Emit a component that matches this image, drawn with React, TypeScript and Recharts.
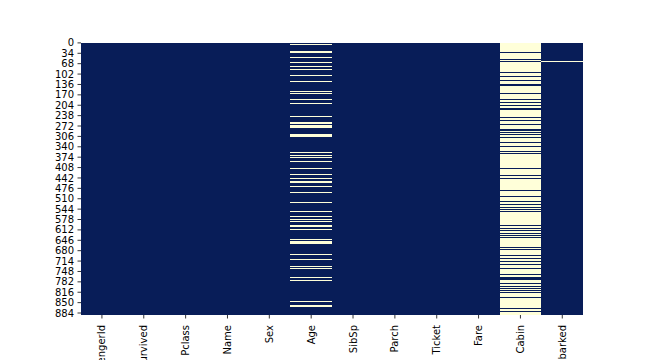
import React from "react";
import { ComposedChart, XAxis, YAxis, ReferenceArea } from "recharts";

const NAVY = "#081d58";
const CREAM = "#ffffd9";

const columns = [
  "PassengerId", "Survived", "Pclass", "Name", "Sex", "Age",
  "SibSp", "Parch", "Ticket", "Fare", "Cabin", "Embarked",
];
const rowCount = 891;

const yTickLabels = [
  0, 34, 68, 102, 136, 170, 204, 238, 272, 306, 340, 374, 408, 442,
  476, 510, 544, 578, 612, 646, 680, 714, 748, 782, 816, 850, 884,
];

// rows where Age is missing
const ageMissing = [
  5, 17, 19, 26, 28, 29, 31, 32, 36, 42, 45, 46, 47, 48, 55, 64, 65, 76, 77, 82,
  87, 95, 101, 107, 109, 121, 126, 128, 140, 154, 158, 159, 166, 168, 176, 180,
  181, 185, 186, 196, 198, 201, 214, 223, 229, 235, 240, 241, 250, 256, 260, 264,
  270, 274, 277, 284, 295, 298, 300, 301, 303, 304, 306, 324, 330, 334, 335, 347,
  351, 354, 358, 359, 364, 367, 368, 375, 384, 388, 409, 410, 411, 413, 415, 420,
  425, 428, 431, 444, 451, 454, 457, 459, 464, 466, 468, 470, 475, 481, 485, 490,
  495, 497, 502, 507, 511, 517, 522, 524, 527, 531, 533, 538, 547, 552, 557, 560,
  563, 564, 568, 573, 578, 584, 589, 593, 596, 598, 601, 602, 611, 612, 613, 629,
  633, 639, 643, 648, 650, 653, 656, 667, 669, 674, 680, 692, 697, 709, 711, 718,
  727, 732, 738, 739, 740, 760, 766, 768, 773, 776, 778, 783, 790, 792, 793, 815,
  825, 826, 828, 832, 837, 839, 846, 849, 859, 863, 868, 878, 888,
];

// rows where Cabin is filled in (everything else is missing)
const cabinPresent = [
  1, 3, 6, 10, 11, 21, 23, 27, 31, 52, 54, 55, 61, 62, 66, 75, 88, 92, 96, 97,
  102, 110, 118, 123, 124, 128, 136, 137, 139, 148, 151, 166, 170, 174, 177, 183,
  185, 193, 194, 195, 205, 209, 215, 218, 244, 254, 267, 283, 287, 293, 300, 310,
  326, 339, 355, 362, 411, 434, 441, 444, 483, 503, 519, 529, 539, 545, 552, 598,
  607, 614, 624, 630, 637, 670, 676, 696, 706, 715, 725, 738, 758, 765, 766, 767,
  768, 769, 770, 771, 772, 773, 774, 787, 797, 804, 810, 817, 833, 869, 879,
];

const embarkedMissing = [61, 829];

// merge row indices into [start, end) runs
function toRuns(rows: number[]): [number, number][] {
  const sorted = [...rows].sort((a, b) => a - b);
  const runs: [number, number][] = [];
  for (const r of sorted) {
    const last = runs[runs.length - 1];
    if (last && last[1] === r) last[1] = r + 1;
    else runs.push([r, r + 1]);
  }
  return runs;
}

function complement(rows: number[], n: number): number[] {
  const set = new Set(rows);
  const out: number[] = [];
  for (let i = 0; i < n; i++) if (!set.has(i)) out.push(i);
  return out;
}

const missingByColumn: Record<string, number[]> = {
  Age: ageMissing,
  Cabin: complement(cabinPresent, rowCount),
  Embarked: embarkedMissing,
};

const cellShape = (fill: string) => (p: any) => (
  <rect
    x={p.x}
    y={p.y}
    width={p.width}
    height={p.height}
    fill={fill}
    shapeRendering="crispEdges"
  />
);

const XTick = ({ x, y, payload }: any) => {
  const ty = y + 3;
  return (
    <text
      x={x}
      y={ty}
      transform={`rotate(-90 ${x} ${ty})`}
      textAnchor="end"
      dominantBaseline="central"
      fontSize={10}
      fontFamily="DejaVu Sans"
      fill="#000"
    >
      {columns[Math.floor(payload.value)]}
    </text>
  );
};

const chartData = columns.map((c, i) => ({ name: c, pos: i + 0.5, row: i * 81 }));

export default function App() {
  return (
    <div style={{ position: "absolute", left: 0, top: 0, background: "#fff" }}>
      <ComposedChart
        width={648}
        height={360}
        data={chartData}
        margin={{ top: 42.75, right: 64.8, bottom: 0, left: 0 }}
      >
        <XAxis
          type="number"
          dataKey="pos"
          domain={[0, columns.length]}
          allowDataOverflow
          ticks={columns.map((_, i) => i + 0.5)}
          interval={0}
          axisLine={false}
          tickLine={{ stroke: "#000", strokeWidth: 0.8 }}
          tickSize={3.5}
          tickMargin={3.5}
          height={45}
          tick={<XTick />}
        />
        <YAxis
          type="number"
          dataKey="row"
          reversed
          domain={[0, rowCount]}
          allowDataOverflow
          ticks={yTickLabels.map((v) => v + 0.5)}
          interval={0}
          tickFormatter={(v: number) => String(v - 0.5)}
          axisLine={false}
          tickLine={{ stroke: "#000", strokeWidth: 0.8 }}
          tickSize={3.5}
          tickMargin={3.5}
          width={81}
          tick={{ fontSize: 10, fill: "#000", fontFamily: "DejaVu Sans" }}
        />
        <ReferenceArea
          x1={0}
          x2={columns.length}
          y1={0}
          y2={rowCount}
          ifOverflow="visible"
          shape={cellShape(NAVY)}
        />
        {columns.map((col, ci) =>
          toRuns(missingByColumn[col] || []).map(([s, e]) => (
            <ReferenceArea
              key={`${col}-${s}`}
              x1={ci}
              x2={ci + 1}
              y1={s}
              y2={e}
              ifOverflow="visible"
              shape={cellShape(CREAM)}
            />
          ))
        )}
      </ComposedChart>
    </div>
  );
}
